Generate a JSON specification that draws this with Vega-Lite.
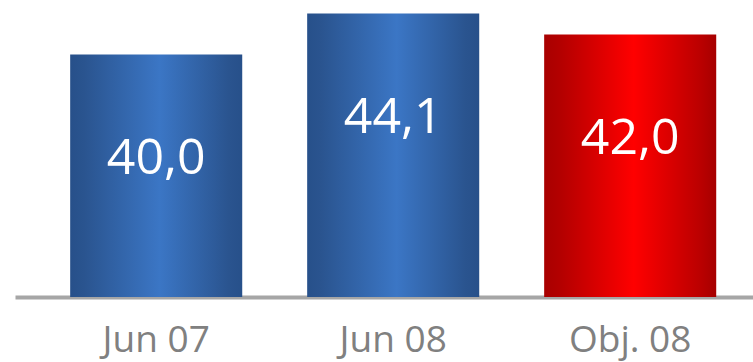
{
  "$schema": "https://vega.github.io/schema/vega-lite/v6.json",
  "width": 738,
  "height": 297,
  "autosize": {"type": "none"},
  "padding": {"left": 15, "top": 0, "right": 0, "bottom": 65},
  "background": "white",
  "config": {"view": {"stroke": null}},
  "data": {
    "values": [
      {"period": "Jun 07", "value": 40.0, "label": "40,0", "kind": "actual"},
      {"period": "Jun 08", "value": 44.1, "label": "44,1", "kind": "actual"},
      {"period": "Obj. 08", "value": 42.0, "label": "42,0", "kind": "objective"}
    ]
  },
  "encoding": {
    "x": {
      "field": "period",
      "type": "nominal",
      "sort": null,
      "scale": {"paddingInner": 0.274, "paddingOuter": 0.194, "align": 0.6},
      "axis": {
        "title": null,
        "labelAngle": 0,
        "ticks": false,
        "labelFont": "Open Sans",
        "labelFontSize": 37,
        "labelColor": "#808080",
        "labelPadding": 25,
        "domainColor": "#a6a6a6",
        "domainWidth": 4,
        "domainCap": "butt"
      }
    },
    "y": {
      "field": "value",
      "type": "quantitative",
      "scale": {"domain": [15.7, 45.45], "zero": false, "nice": false},
      "axis": null
    }
  },
  "layer": [
    {
      "transform": [{"filter": "datum.kind === 'actual'"}],
      "mark": {
        "type": "bar",
        "clip": true,
        "color": {
          "gradient": "linear", "x1": 0, "y1": 0, "x2": 1, "y2": 0,
          "stops": [
            {"offset": 0, "color": "#27508a"},
            {"offset": 0.08, "color": "#2a548f"},
            {"offset": 0.52, "color": "#3b76c5"},
            {"offset": 0.92, "color": "#2a548f"},
            {"offset": 1, "color": "#27508a"}
          ]
        }
      }
    },
    {
      "transform": [{"filter": "datum.kind === 'objective'"}],
      "mark": {
        "type": "bar",
        "clip": true,
        "color": {
          "gradient": "linear", "x1": 0, "y1": 0, "x2": 1, "y2": 0,
          "stops": [
            {"offset": 0, "color": "#a80000"},
            {"offset": 0.1, "color": "#b40000"},
            {"offset": 0.52, "color": "#ff0000"},
            {"offset": 0.9, "color": "#bc0000"},
            {"offset": 1, "color": "#a60000"}
          ]
        }
      }
    },
    {
      "mark": {
        "type": "text",
        "font": "Open Sans",
        "fontSize": 50,
        "color": "white",
        "baseline": "middle",
        "dy": 105
      },
      "encoding": {"text": {"field": "label", "type": "nominal"}}
    }
  ]
}
